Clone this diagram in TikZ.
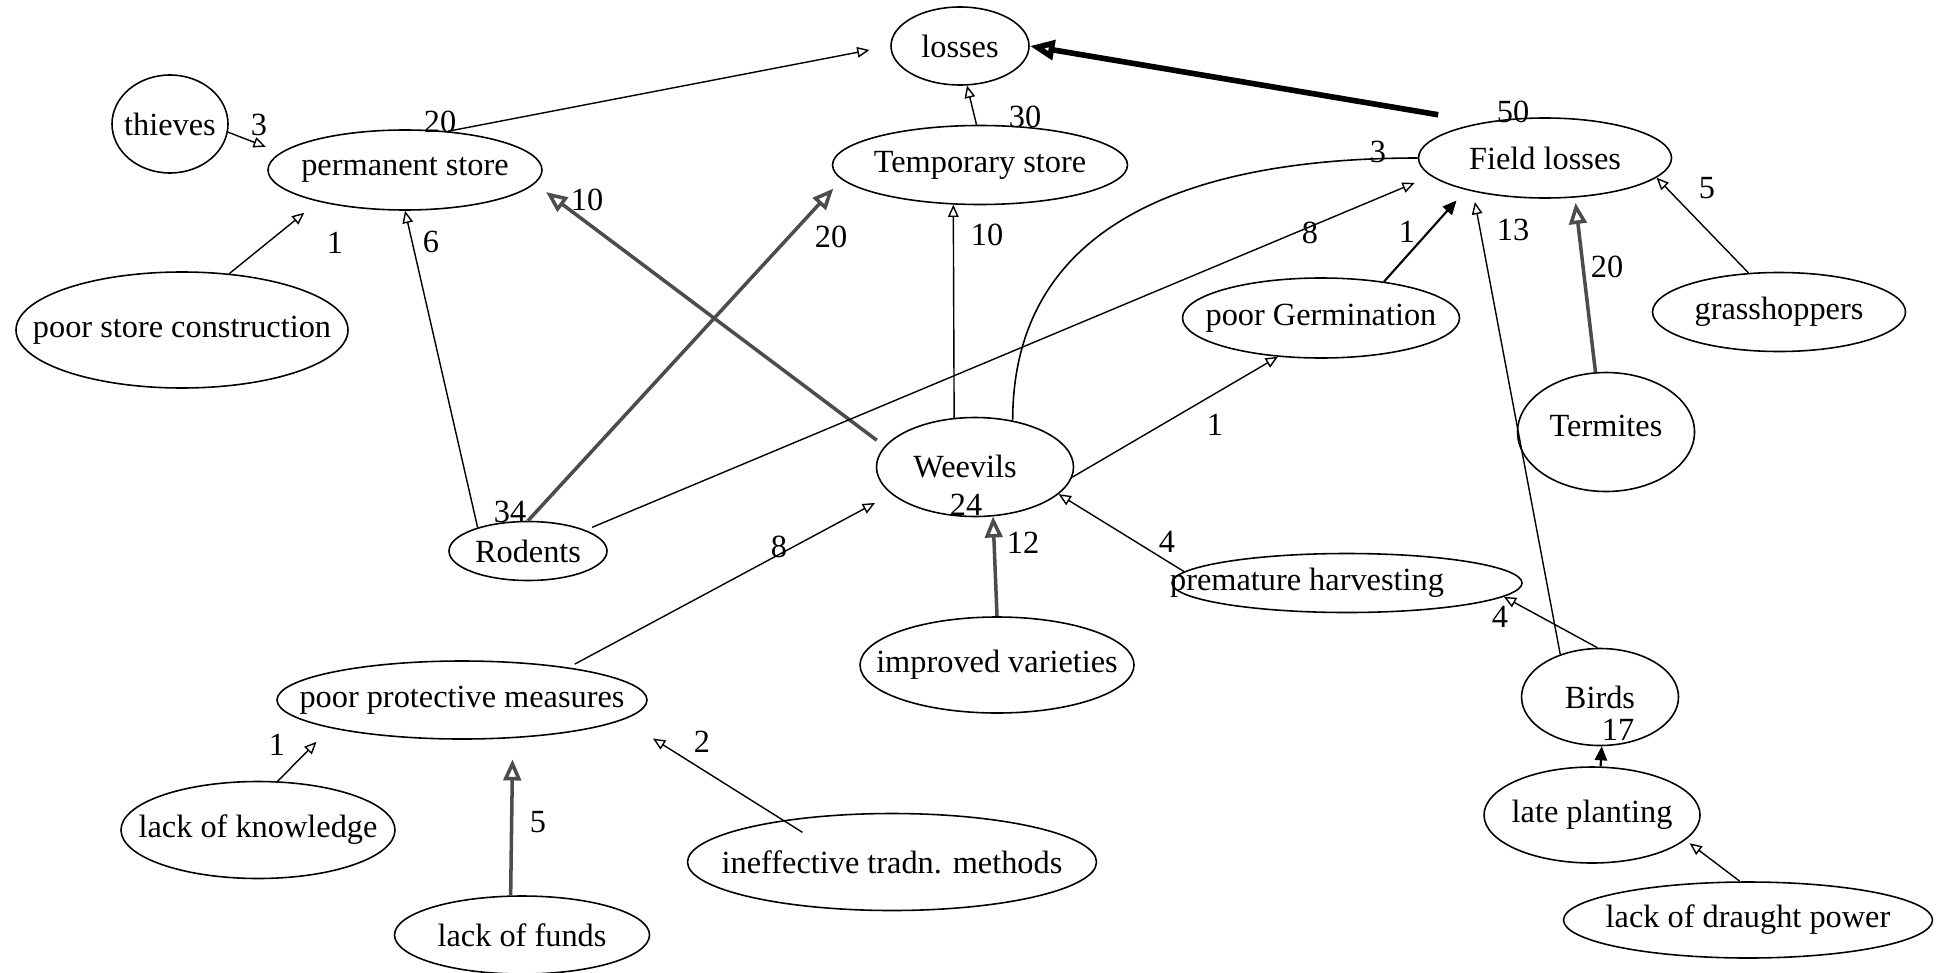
\documentclass[tikz,border=0pt]{standalone}
\usepackage{fontspec}
\setmainfont{Liberation Serif}
\usetikzlibrary{arrows.meta,shapes.geometric}
\newcommand{\nt}[1]{\makebox[0pt]{#1}}

\begin{document}
\begin{tikzpicture}[x=0.1mm,y=-0.1mm,font=\fontsize{9.2}{11}\selectfont,
        every node/.style={inner sep=0pt},
        n/.style 2 args={draw,ellipse,line width=0.45pt,minimum width=#1*0.1mm,minimum height=#2*0.1mm},
        arr/.style={-{Triangle[open,length=3.5pt,width=3pt]},line width=0.4pt},
        big/.style={-{Triangle[open,length=6pt,width=5pt]},line width=1pt,black!70},
        fillarr/.style={-{Triangle[length=4pt,width=3.5pt]},line width=0.6pt}]
        \useasboundingbox(0,0)rectangle(1942,972);

        \node[n={138}{78}](losses)at(960,46){\nt{losses}};
        \node[n={116}{98}](thieves)at(170,124){\nt{thieves}};
        \node[n={274}{80}](perm)at(405,170){\nt{permanent store}};
        \node[n={295}{79}](temp)at(980,165){\nt{Temporary store}};
        \node[n={253}{80}](field)at(1545,158){\nt{Field losses}};
        \node[n={332}{116}](psc)at(182,330){\nt{poor store construction}};
        \node[n={277}{80}](germ)at(1321,318){\nt{poor Germination}};
        \node[n={253}{79}](grass)at(1779,312){\nt{grasshoppers}};
        \node[n={177}{119}](termites)at(1606,432){\nt{\raisebox{1.2mm}{Termites}}};
        \node[n={197}{99}](weevils)at(975,467){\nt{\hspace*{-2mm}Weevils}};
        \node[n={158}{59}](rodents)at(528,551){\nt{Rodents}};
        \node[n={350}{59}](harvest)at(1347,583){\nt{\hspace*{-8mm}premature harvesting}};
        \node[n={274}{96}](improved)at(997,665){\nt{improved varieties}};
        \node[n={157}{97}](birds)at(1600,697){\nt{Birds}};
        \node[n={370}{78}](protect)at(462,700){\nt{\raisebox{-0.8mm}{poor protective measures}}};
        \node[n={274}{97}](knowledge)at(258,830){\nt{lack of knowledge}};
        \node[n={409}{97}](tradn)at(892,862){\nt{ineffective tradn. methods}};
        \node[n={255}{78}](funds)at(522,935){\nt{lack of funds}};
        \node[n={216}{96}](planting)at(1592,815){\nt{late planting}};
        \node[n={369}{76}](draught)at(1748,920){\nt{lack of draught power}};

        \draw[arr,shorten >=4.5pt](thieves.-8)--(perm.172);
        \draw[arr,shorten >=6pt](perm.42)--(losses.west);
        \draw[arr](temp.95)--(losses.-80);
        \draw[-{Triangle[open,length=7pt,width=5.5pt]},line width=1.6pt,shorten <=13pt](field.150)--(losses.east);
        \draw[arr,shorten >=5pt](psc.50)--(perm.-160);
        \draw[arr](rodents.155)--(perm.south);
        \draw[big,shorten <=2.8pt,shorten >=4pt](weevils.167)--(perm.-6);
        \draw[big,shorten >=3.5pt](rodents.north)--(temp.-174);
        \draw[arr](weevils.113)--(temp.-124);
        \draw[line width=0.45pt](weevils.51)to[out=90,in=180,looseness=1.1](field.west);
        \draw[arr,shorten <=2pt,shorten >=5pt](rodents.20)--(field.-171);
        \draw[arr](weevils.-6)--(germ.-138);
        \draw[fillarr,shorten >=4pt](germ.30)--(field.-158);
        \draw[arr,shorten >=3pt](birds.133)--(field.-155);
        \draw[big,shorten >=1.5pt](termites.100)--(field.-53);
        \draw[arr](grass.128)--(field.-10);
        \draw[arr,shorten <=2pt,shorten >=5.3pt](protect.17)--(weevils.-162);
        \draw[big](improved.north)--(weevils.-70);
        \draw[arr](harvest.176)--(weevils.-18);
        \draw[arr](birds.93)--(harvest.-5);
        \draw[fillarr](planting.80)--(birds.-88);
        \draw[arr,shorten >=1.5pt](draught.102)--(planting.-15);
        \draw[arr,shorten >=5.5pt](knowledge.68)--(protect.-168);
        \draw[big,shorten >=6pt](funds.106)--(protect.-37.5);
        \draw[arr,shorten <=-6.5pt,shorten >=10pt](tradn.159)--(protect.-7);

        \node(w3a)at(259,125){3};
        \node(w20a)at(440,122){20};
        \node(w10a)at(587,200){10};
        \node(w1a)at(335,243){1};
        \node(w6)at(431,242){6};
        \node(w30)at(1025,117){30};
        \node(w20b)at(831,237){20};
        \node(w10b)at(987,235){10};
        \node(w50)at(1513,112){50};
        \node(w3b)at(1378,152){3};
        \node(w8a)at(1310,233){8};
        \node(w1b)at(1407,232){1};
        \node(w13)at(1513,230){13};
        \node(w20c)at(1607,267){20};
        \node(w5a)at(1707,188){5};
        \node(w1c)at(1215,425){1};
        \node(w34)at(510,512){34};
        \node(w24)at(966,505){24};
        \node(w8b)at(779,547){8};
        \node(w12)at(1023,543){12};
        \node(w4a)at(1167,542){4};
        \node(w4b)at(1500,617){4};
        \node(w17)at(1618,730){17};
        \node(w1d)at(277,745){1};
        \node(w5b)at(538,822){5};
        \node(w2)at(702,742){2};

    \end{tikzpicture}
\end{document}
